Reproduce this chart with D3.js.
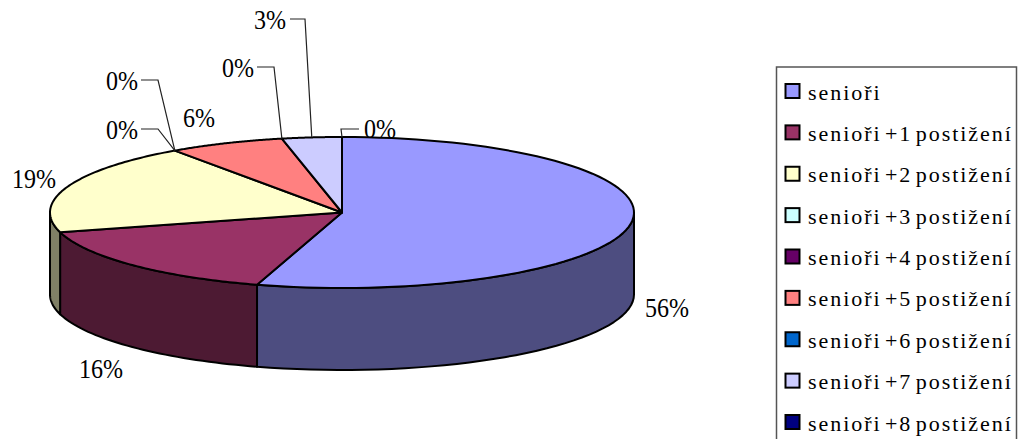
<!DOCTYPE html>
<html><head><meta charset="utf-8">
<script src="https://cdn.jsdelivr.net/npm/d3@7/dist/d3.min.js"></script>
<style>
html,body{margin:0;padding:0;background:#fff;overflow:hidden}
text{font-family:"Liberation Serif",serif;fill:#000}
</style></head><body><svg id="c" width="1022" height="439"></svg>
<script>
const categories = ["senioři","senioři +1 postižení","senioři +2 postižení","senioři +3 postižení","senioři +4 postižení","senioři +5 postižení","senioři +6 postižení","senioři +7 postižení","senioři +8 postižení"];
// slice shares as they are drawn in the picture
const drawnShares = [54.7,16.1,19.5,0,0,6.4,0,3.3,0];
// printed data labels
const percentLabels = ["56%","16%","19%","0%","0%","6%","0%","3%","0%"];
const topColors = ["#9999FF","#993366","#FFFFCC","#CCFFFF","#660066","#FF8080","#0066CC","#CCCCFF","#000080"];
const sideColors = ["#4D4D80","#4D1A33","#808066","#668080","#330033","#804040","#003366","#666680","#000040"];

const W=1022,H=439, cx=342, cy=212.5, rx=292, ry=75.5, depth=82;
const svg=d3.select("#c");
const pie=d3.pie().sort(null).value(d=>d.v);
const arcs=pie(drawnShares.map((v,i)=>({v,i})));
const P=(t,dy=0)=>[cx+rx*Math.sin(t),cy-ry*Math.cos(t)+dy];
const line=d3.line();

// walls (only the front half, angle PI/2 .. 3PI/2, is visible)
arcs.filter(a=>a.data.v>0).forEach(a=>{
  const s=Math.max(a.startAngle,Math.PI/2), e=Math.min(a.endAngle,3*Math.PI/2);
  if(e<=s) return;
  const ts=d3.range(0,41).map(k=>s+(e-s)*k/40);
  const pts=ts.map(t=>P(t)).concat(ts.slice().reverse().map(t=>P(t,depth)));
  svg.append("path").attr("d",line(pts)+"Z")
    .attr("fill",sideColors[a.data.i]).attr("stroke","#000").attr("stroke-width",2).attr("stroke-linejoin","round");
});
// top faces
arcs.filter(a=>a.data.v>0).forEach(a=>{
  const ts=d3.range(0,81).map(k=>a.startAngle+(a.endAngle-a.startAngle)*k/80);
  svg.append("path").attr("d",line([[cx,cy]].concat(ts.map(t=>P(t))))+"Z")
    .attr("fill",topColors[a.data.i]).attr("stroke","#000").attr("stroke-width",2).attr("stroke-linejoin","round");
});

// data labels: text anchor, plus optional leader elbow
const labelLayout=[
 {x:667,y:317},{x:101,y:378},{x:34,y:188},
 {x:122,y:139,lead:[[141,129],[158,129]]},
 {x:122,y:90,lead:[[141,80],[158,80]]},
 {x:199,y:127},
 {x:238,y:77,lead:[[257,67],[274,67]]},
 {x:270,y:29,lead:[[290,19],[305,19]]},
 {x:380,y:138,lead:[[359,129],[341,129]]}
];
arcs.forEach((a,i)=>{
  const L=labelLayout[i];
  if(L.lead){
    const mid=(a.startAngle+a.endAngle)/2;
    const pts=L.lead.concat([P(mid)]);
    svg.append("path").attr("d",line(pts)).attr("fill","none").attr("stroke","#222").attr("stroke-width",1.2);
  }
});
arcs.forEach((a,i)=>{
  const L=labelLayout[i];
  svg.append("text").attr("transform",`translate(${L.x},${L.y}) scale(0.89,1)`).attr("text-anchor","middle").attr("font-size",27).text(percentLabels[i]);
});

// legend
const legTop=67, legL=776.5, legR=1016.5;
svg.append("path").attr("d",line([[legL,H],[legL,legTop],[legR,legTop],[legR,H]])).attr("fill","none").attr("stroke","#555").attr("stroke-width",1.5);
const rowY=d3.scalePoint().domain(d3.range(categories.length)).range([91,422]);
categories.forEach((c,i)=>{
  const y=rowY(i);
  svg.append("rect").attr("x",785.5).attr("y",y-7).attr("width",14).attr("height",14)
    .attr("fill",topColors[i]).attr("stroke","#000").attr("stroke-width",2);
  svg.append("text").attr("x",808).attr("y",y+8.5).attr("font-size",22).style("letter-spacing","1.95px").style("word-spacing","-4px").text(c);
});
</script></body></html>
